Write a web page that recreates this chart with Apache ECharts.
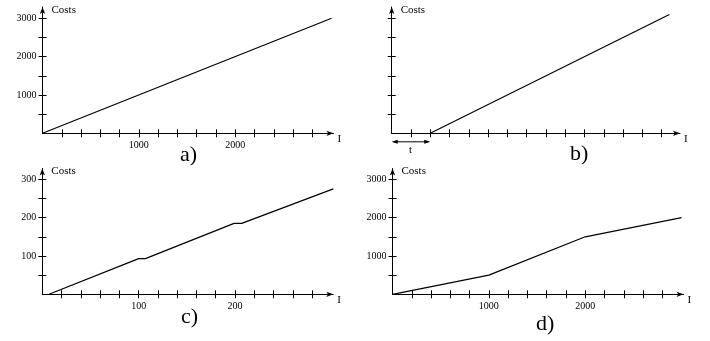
<!DOCTYPE html>
<html>
<head>
<meta charset="utf-8">
<script src="https://cdn.jsdelivr.net/npm/echarts@6/dist/echarts.min.js"></script>
<style>
  html, body { margin: 0; padding: 0; background: #fff; }
  #main { width: 710px; height: 341px; }
</style>
</head>
<body>
<div id="main"></div>
<script>
// data
var aX = [0, 3000];
var aY = [0, 3000];
var bX = [400, 2880];
var bY = [0, 3100];
var tStart = 400;
var cX = [7, 100, 107, 199, 207, 302];
var cY = [0, 93, 93, 185, 185, 275];
var dX = [0, 1000, 2000, 3000];
var dY = [0, 500, 1500, 2000];

// ticks / labels
var ticksX = [200, 400, 600, 800, 1000, 1200, 1400, 1600, 1800, 2000, 2200, 2400, 2600, 2800];
var labelsX = [1000, 2000];
var ticksY = [500, 1000, 1500, 2000, 2500, 3000];
var labelsY = [1000, 2000, 3000];
var ticksXc = [20, 40, 60, 80, 100, 120, 140, 160, 180, 200, 220, 240, 260, 280];
var labelsXc = [100, 200];
var ticksYc = [50, 100, 150, 200, 250, 300];
var labelsYc = [100, 200, 300];
var panelNames = ['a)', 'b)', 'c)', 'd)'];

var FONT = 'Liberation Serif';
var chart = echarts.init(document.getElementById('main'));

var xAxes = [], yAxes = [];

// main axis (line, outer ticks, labels) + ghost axis (inner ticks) so ticks cross the line
function addAxis(list, isX, grid, max, ticks, labels, name) {
  var pos = isX ? 'bottom' : 'left';
  var main = {
    type: 'value', gridIndex: grid, min: 0, max: max, position: pos,
    splitLine: {show: false},
    axisLine: {show: true, onZero: false, lineStyle: {color: '#000', width: 1},
      symbol: ['none', 'arrow'], symbolSize: [4, 7]},
    axisTick: {show: true, inside: false, length: 4, customValues: ticks,
      lineStyle: {color: '#000', width: 1}},
    axisLabel: {show: labels.length > 0, customValues: labels, color: '#000',
      fontFamily: FONT, fontSize: 10, margin: isX ? 7 : 6,
      formatter: function (v) { return String(v); }},
    name: name,
    nameLocation: 'end'
  };
  if (isX) {
    main.nameGap = 4;
    main.nameTextStyle = {fontFamily: FONT, fontSize: 11, color: '#000', verticalAlign: 'top'};
  } else {
    main.nameGap = -3;
    main.nameTextStyle = {fontFamily: FONT, fontSize: 11, color: '#000', align: 'left',
      verticalAlign: 'middle', padding: [0, 0, 0, 9]};
  }
  var ghost = {
    type: 'value', gridIndex: grid, min: 0, max: max, position: pos,
    splitLine: {show: false},
    axisLine: {show: false, onZero: false},
    axisTick: {show: true, inside: true, length: 4, customValues: ticks,
      lineStyle: {color: '#000', width: 1}},
    axisLabel: {show: false}
  };
  list.push(main);
  list.push(ghost);
  return list.length - 2;
}

function pairs(xs, ys) {
  return xs.map(function (x, i) { return [x, ys[i]]; });
}

var grids = [
  {left: 42.5, top: 7, width: 291, height: 126.3},
  {left: 391.7, top: 7, width: 288.3, height: 126.3},
  {left: 42.3, top: 168.5, width: 291, height: 125.8},
  {left: 392.5, top: 168.5, width: 291, height: 125.8}
];

var ax = [], ay = [];
ax.push(addAxis(xAxes, true, 0, 3020, ticksX, labelsX, 'I'));
ay.push(addAxis(yAxes, false, 0, 3295, ticksY, labelsY, 'Costs'));
ax.push(addAxis(xAxes, true, 1, 2990, ticksX, [], 'I'));
ay.push(addAxis(yAxes, false, 1, 3295, ticksY, [], 'Costs'));
ax.push(addAxis(xAxes, true, 2, 302, ticksXc, labelsXc, 'I'));
ay.push(addAxis(yAxes, false, 2, 328, ticksYc, labelsYc, 'Costs'));
ax.push(addAxis(xAxes, true, 3, 3020, ticksX, labelsX, 'I'));
ay.push(addAxis(yAxes, false, 3, 3282, ticksY, labelsY, 'Costs'));

var seriesData = [pairs(aX, aY), pairs(bX, bY), pairs(cX, cY), pairs(dX, dY)];
var series = seriesData.map(function (d, i) {
  return {
    type: 'line', xAxisIndex: ax[i], yAxisIndex: ay[i], data: d,
    showSymbol: false, symbol: 'none', clip: false,
    lineStyle: {color: '#000', width: 1.2}
  };
});

var titlePos = [[180, 144], [570, 143], [181, 306], [536, 313]];
var titles = panelNames.map(function (t, i) {
  return {
    text: t, left: titlePos[i][0], top: titlePos[i][1], padding: 0,
    textStyle: {fontFamily: FONT, fontSize: 22, fontWeight: 'normal', color: '#000'}
  };
});

chart.setOption({
  animation: false,
  title: titles,
  grid: grids,
  xAxis: xAxes,
  yAxis: yAxes,
  series: series
});

// the "t" double arrow under panel b
var p0 = chart.convertToPixel({gridIndex: 1}, [0, 0]);
var p1 = chart.convertToPixel({gridIndex: 1}, [tStart, 0]);
var ty = p0[1] + 8.5;
chart.setOption({
  graphic: [
    {type: 'line', shape: {x1: p0[0] + 2, y1: ty, x2: p1[0] - 2, y2: ty},
      style: {stroke: '#000', lineWidth: 1}},
    {type: 'polygon', shape: {points: [[p0[0], ty], [p0[0] + 6, ty - 2], [p0[0] + 6, ty + 2]]},
      style: {fill: '#000'}},
    {type: 'polygon', shape: {points: [[p1[0], ty], [p1[0] - 6, ty - 2], [p1[0] - 6, ty + 2]]},
      style: {fill: '#000'}},
    {type: 'text', x: (p0[0] + p1[0]) / 2 - 2, y: ty + 3,
      style: {text: 't', font: '11px "Liberation Serif"', fill: '#000'}}
  ]
});
</script>
</body>
</html>
